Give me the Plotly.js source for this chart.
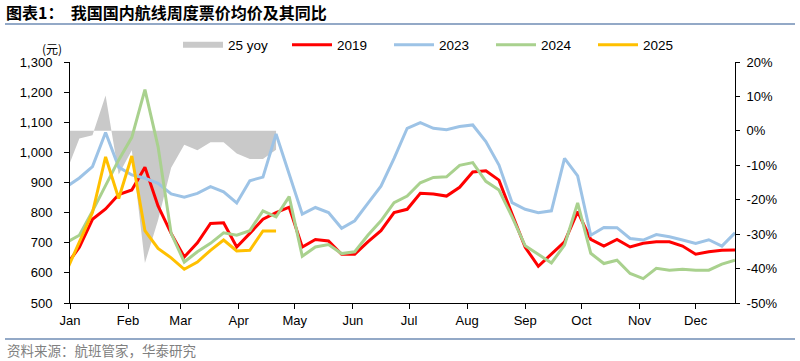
<!DOCTYPE html>
<html><head><meta charset="utf-8">
<script src="https://cdn.plot.ly/plotly-3.0.1.min.js"></script>
<style>html,body{margin:0;padding:0;background:#fff;}#chart{width:800px;height:361px;}</style>
</head><body><div id="chart"></div>
<script>
// day-of-year of each weekly observation
const weekDays = [-2,5,12,19,26,33,40,47,54,61,68,75,82,89,96,103,110,117,124,131,138,145,152,159,166,173,180,187,194,201,208,215,222,229,236,243,250,257,264,271,278,285,292,299,306,313,320,327,334,341,348,355];
const monthTickDays = [0,31,59,90,120,151,181,212,243,273,304,334];
const monthLabels = ['Jan','Feb','Mar','Apr','May','Jun','Jul','Aug','Sep','Oct','Nov','Dec'];

const price2019 = [625,685,778,812,860,875,951,822,731,653,700,764,766,686,731,778,800,818,686,711,706,662,662,703,740,800,811,864,862,855,884,935,939,908,795,685,622,664,703,803,711,689,711,686,698,703,703,689,662,670,675,676];
const price2023 = [885,915,953,1066,951,925,914,897,862,851,864,886,869,832,906,918,1061,930,795,817,800,748,773,831,888,980,1080,1099,1080,1075,1086,1091,1036,958,833,811,800,806,980,922,725,751,750,714,709,727,720,709,698,710,689,733];
const price2024 = [700,725,805,890,975,1050,1208,1019,731,636,670,698,733,725,740,806,786,853,655,686,694,664,670,725,773,833,855,899,917,919,957,966,904,875,786,690,662,633,692,832,665,631,642,598,581,615,609,612,609,609,629,642];
const price2025 = [605,700,800,985,847,988,740,681,650,612,636,675,709,673,675,739,739];
const yoy25 = [-12,-2.2,-1.3,10.3,-12.7,-5.6,-38.4,-26,-10.7,-4.0,-5.6,-3.3,-3.3,-6.6,-8.2,-8.2,-5.5];

const priceTickVals = [500,600,700,800,900,1000,1100,1200,1300];
const pctTickVals = [-50,-40,-30,-20,-10,0,10,20];
const pctTickLabels = ['-50%','-40%','-30%','-20%','-10%','0%','10%','20%'];

const FONT = 'Liberation Sans, Arial, sans-serif';
const CJK = 'Noto Sans CJK SC, sans-serif';

const traces = [
  {x: weekDays.slice(0, yoy25.length), y: yoy25, type:'scatter', mode:'none', fill:'tozeroy',
   fillcolor:'#C9C9C9', name:'25 yoy', yaxis:'y', legendwidth:54},
  {x: weekDays, y: price2019, type:'scatter', mode:'lines', name:'2019', yaxis:'y2',
   line:{color:'#FF0000', width:3}, legendwidth:47},
  {x: weekDays, y: price2023, type:'scatter', mode:'lines', name:'2023', yaxis:'y2',
   line:{color:'#9DC3E6', width:3}, legendwidth:47},
  {x: weekDays, y: price2024, type:'scatter', mode:'lines', name:'2024', yaxis:'y2',
   line:{color:'#A9D18E', width:3}, legendwidth:47},
  {x: weekDays.slice(0, price2025.length), y: price2025, type:'scatter', mode:'lines', name:'2025', yaxis:'y2',
   line:{color:'#FFC000', width:3}, legendwidth:47}
];

const layout = {
  width:800, height:361,
  margin:{l:70, r:65, t:62, b:58},
  paper_bgcolor:'#fff', plot_bgcolor:'#fff',
  font:{family:FONT, size:13, color:'#000'},
  showlegend:true,
  title:{text:'图表1：\u00a0\u00a0我国国内航线周度票价均价及其同比', x:6/800, xanchor:'left', xref:'container',
         y:1-13/361, yanchor:'middle', yref:'container',
         font:{family:CJK, size:16, weight:700, color:'#000'}},
  legend:{orientation:'h', x:(178-70)/665, xanchor:'left', y:1+(303-45-241)/241, yanchor:'middle',
          font:{family:FONT, size:13.5, color:'#000'}, bgcolor:'rgba(0,0,0,0)', itemwidth:40, traceorder:'normal'},
  xaxis:{type:'linear', range:[0,355], tickvals:monthTickDays, ticktext:monthLabels,
         ticks:'outside', ticklen:5, tickcolor:'#000', showline:true, linecolor:'#000', linewidth:1,
         showgrid:false, zeroline:false, tickfont:{family:FONT, size:13}},
  yaxis:{side:'right', range:[-50,20], tickvals:pctTickVals, ticktext:pctTickLabels,
         ticks:'outside', ticklen:4, tickcolor:'#000', showline:true, linecolor:'#000', linewidth:1,
         showgrid:false, zeroline:false, ticklabelstandoff:4, tickfont:{family:FONT, size:13}},
  yaxis2:{overlaying:'y', side:'left', range:[500,1300], tickvals:priceTickVals, tickformat:',d',
          ticks:'outside', ticklen:5, tickcolor:'#000', showline:true, linecolor:'#000', linewidth:1,
          showgrid:false, zeroline:false, ticklabelstandoff:9, tickfont:{family:FONT, size:13}},
  shapes:[
    {type:'line', xref:'paper', yref:'paper', x0:(5-70)/665, x1:(795-70)/665, y0:(303-24)/241, y1:(303-24)/241,
     line:{color:'#6F8DB5', width:1.5}},
    {type:'line', xref:'paper', yref:'paper', x0:(5-70)/665, x1:(795-70)/665, y0:(303-339)/241, y1:(303-339)/241,
     line:{color:'#6F8DB5', width:1.5}}
  ],
  annotations:[
    {text:'(元)', xref:'paper', yref:'paper', x:(52-70)/665, y:(303-48)/241, xanchor:'center', yanchor:'middle',
     showarrow:false, font:{family:CJK, size:12, color:'#000'}},
    {text:'资料来源：航班管家，华泰研究', xref:'paper', yref:'paper', x:(5-70)/665, y:(303-350)/241,
     xanchor:'left', yanchor:'middle', showarrow:false, font:{family:CJK, size:13.5, color:'#808080'}}
  ]
};

Plotly.newPlot('chart', traces, layout, {staticPlot:true, displayModeBar:false});
</script>
</body></html>
